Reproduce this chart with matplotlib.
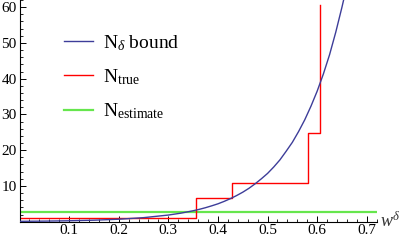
import matplotlib
matplotlib.use("Agg")
import matplotlib.pyplot as plt
from matplotlib.ticker import MultipleLocator

plt.rcParams['font.family'] = ['Liberation Serif', 'DejaVu Serif']
plt.rcParams['mathtext.fontset'] = 'custom'
plt.rcParams['mathtext.rm'] = 'Liberation Serif'
plt.rcParams['mathtext.it'] = 'Liberation Serif:italic'

# N_delta bound curve
bound_x = [0.0, 0.05, 0.1, 0.15, 0.2, 0.25, 0.3, 0.325, 0.35, 0.3625, 0.375, 0.3875,
           0.4, 0.4125, 0.425, 0.4375, 0.45, 0.4625, 0.475, 0.4875, 0.5, 0.5125,
           0.525, 0.5375, 0.55, 0.5625, 0.575, 0.5875, 0.6, 0.6125, 0.625, 0.6375,
           0.65, 0.66]
bound_y = [0.1, 0.16, 0.26, 0.42, 0.69, 1.13, 1.86, 2.38, 3.06, 3.46, 3.92, 4.44,
           5.0, 5.68, 6.44, 7.3, 8.25, 9.34, 10.6, 12.0, 13.5, 15.3,
           17.3, 19.7, 22.2, 25.2, 28.5, 32.3, 36.5, 41.3, 46.7, 53.0,
           60.0, 66.0]

# N_true step function
true_x = [0.0, 0.355, 0.429, 0.581, 0.606]
true_y = [1.0, 6.7, 10.75, 24.8, 60.5]

# N_estimate constant
est_x = [0.0, 0.72]
est_y = [2.8, 2.8]

fig = plt.figure(figsize=(4.09, 2.44), dpi=100)
ax = fig.add_axes([0.0477, 0.0914, 0.8733, 0.9086])

blue = '#3d3d99'
red = '#ff0000'
green = '#66e64d'

ax.plot(bound_x, bound_y, color=blue, lw=1.0, label=r'N$_{\delta}$ bound', zorder=3)
# step: build vertical segments from the step data
sx, sy = [], []
for i, (xv, yv) in enumerate(zip(true_x, true_y)):
    if i > 0:
        sx.append(xv); sy.append(true_y[i - 1])
    sx.append(xv); sy.append(yv)
ax.plot(sx, sy, color=red, lw=1.0, label=r'N$_{\rm true}$', zorder=2)
ax.plot(est_x, est_y, color=green, lw=1.6, label=r'N$_{\rm estimate}$', zorder=1)

ax.set_xlim(0, 0.72)
ax.set_ylim(0, 62)
for s in ['top', 'right']:
    ax.spines[s].set_visible(False)
for s in ['left', 'bottom']:
    ax.spines[s].set_linewidth(0.8)

ax.xaxis.set_minor_locator(MultipleLocator(0.02))
ax.yaxis.set_minor_locator(MultipleLocator(2))
ax.set_xticks([0.1, 0.2, 0.3, 0.4, 0.5, 0.6, 0.7])
ax.set_xticklabels(['0.1', '0.2', '0.3', '0.4', '0.5', '0.6', '0.7'])
ax.set_yticks([10, 20, 30, 40, 50, 60])
ax.set_yticklabels(['10', '20', '30', '40', '50', '60'])
ax.tick_params(which='major', direction='in', length=4, width=0.7, labelsize=11, pad=2)
ax.tick_params(which='minor', direction='in', length=2, width=0.6)

ax.text(1.01, 0.0, r'$w^{\delta}$', transform=ax.transAxes, fontsize=13,
        ha='left', va='center', color='#333333')

ax.legend(loc='upper left', bbox_to_anchor=(0.075, 0.93), frameon=False,
          fontsize=14, handlelength=1.5, handletextpad=0.5, labelspacing=0.75)

fig.savefig('out.png', dpi=100)
